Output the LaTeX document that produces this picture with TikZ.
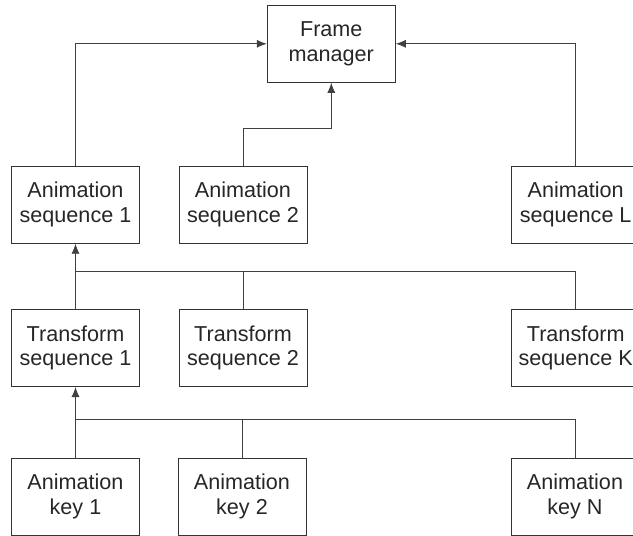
\documentclass[tikz,border=0pt]{standalone}
\usepackage{fontspec}
\setmainfont{Liberation Sans}
\usetikzlibrary{arrows.meta}

\begin{document}
\begin{tikzpicture}[x=1pt,y=-1pt,
  blk/.style={draw=black!80,line width=1pt,text=black!85,minimum width=128pt,minimum height=77pt,
    inner sep=0pt,align=center,font=\fontsize{21.6}{24.7}\selectfont},
  lnk/.style={draw=black!75,line width=0.8pt},
  arr/.style={lnk,-{Latex[length=10pt,width=8pt]}}]
  \useasboundingbox (0,0) rectangle (633,536);
  % top
  \node[blk] (fm) at (331.3,43.8) {Frame\\manager};
  % animation sequences
  \node[blk] (as1) at (75.5,204.7) {Animation\\sequence 1};
  \node[blk] (as2) at (243,204.7) {Animation\\sequence 2};
  \node[blk] (asL) at (575.7,204.7) {Animation\\sequence L};
  % transform sequences
  \node[blk] (ts1) at (75.5,348) {Transform\\sequence 1};
  \node[blk] (ts2) at (243,348) {Transform\\sequence 2};
  \node[blk] (tsK) at (575.7,348) {Transform\\sequence K};
  % animation keys
  \node[blk] (ak1) at (75.5,496.7) {Animation\\key 1};
  \node[blk] (ak2) at (242,496.7) {Animation\\key 2};
  \node[blk] (akN) at (575,496.7) {Animation\\key N};
  \coordinate (bus1) at (75.5,271.7);
  \coordinate (bus2) at (75.5,419.3);
  \coordinate (bend2) at (243,128.3);

  \draw[arr] (as1.north) |- (fm.west);
  \draw[arr] (asL.north) |- (fm.east);
  \draw[arr] (as2.north) -- (bend2) -| (fm.south);

  \draw[arr] (ts1.north) -- (as1.south);
  \draw[lnk] (ts2.north) |- (bus1);
  \draw[lnk] (tsK.north) |- (bus1);

  \draw[arr] (ak1.north) -- (ts1.south);
  \draw[lnk] (ak2.north) |- (bus2);
  \draw[lnk] (akN.north) |- (bus2);
\end{tikzpicture}
\end{document}
